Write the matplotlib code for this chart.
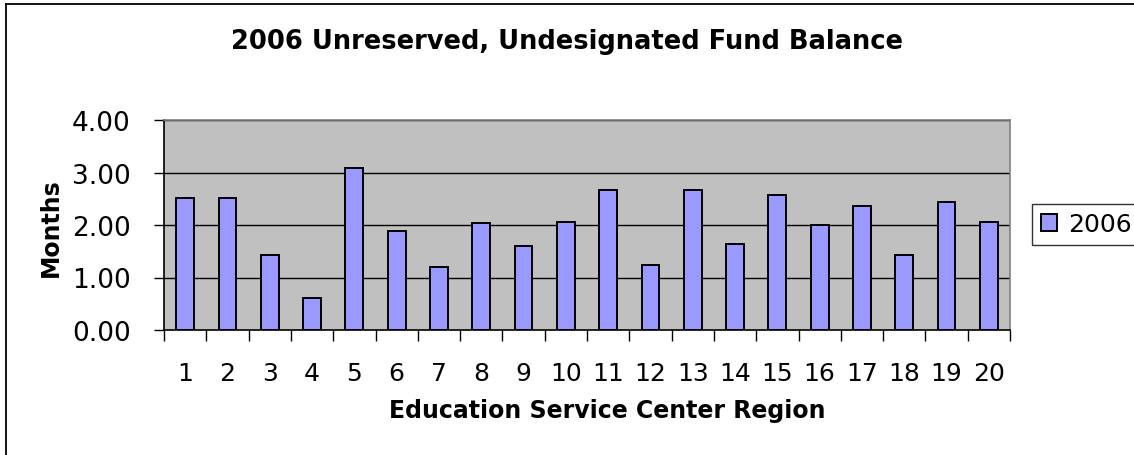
import matplotlib
matplotlib.use("Agg")
import matplotlib.pyplot as plt
import numpy as np
from matplotlib.lines import Line2D

regions = [str(i) for i in range(1, 21)]
values_2006 = [2.51, 2.51, 1.42, 0.61, 3.09, 1.89, 1.20, 2.03, 1.60, 2.06,
               2.66, 1.24, 2.66, 1.63, 2.58, 2.00, 2.37, 1.42, 2.44, 2.06]
yticks = [0, 1, 2, 3, 4]
series_name = "2006"

plt.rcParams['font.family'] = ['DejaVu Sans']

W, H = 1134, 456
fig = plt.figure(figsize=(W / 100, H / 100), dpi=100)
fig.patch.set_facecolor('white')

def fx(px):
    return px / W

def fy(py):
    return 1 - py / H

# outer chart border (right and bottom run off the image)
fig.add_artist(Line2D([fx(6), fx(6)], [fy(5), 0.0], color='black', lw=1.3))
fig.add_artist(Line2D([fx(6), 1.0], [fy(5), fy(5)], color='black', lw=1.3))

ax = fig.add_axes([fx(164), fy(331), (1010 - 164) / W, (331 - 121) / H])
ax.set_facecolor('#c0c0c0')
x = np.arange(len(regions))
ax.bar(x, values_2006, width=0.42, color='#9999ff', edgecolor='black', linewidth=1.4,
       zorder=3, label=series_name)
ax.set_xlim(-0.5, len(regions) - 0.5)
ax.set_ylim(0, 4)
ax.set_yticks(yticks)
ax.set_yticklabels([f"{v:.2f}" for v in yticks], fontsize=19)
for v in yticks[1:]:
    ax.axhline(v, color='black', linewidth=1.0, zorder=1)

ax.set_xticks(x)
ax.set_xticklabels(regions, fontsize=18)
ax.tick_params(axis='x', length=0, pad=22)
ax.set_xticks(np.arange(-0.5, len(regions) + 0.5, 1), minor=True)
ax.tick_params(axis='x', which='minor', length=8, width=1, direction='out')
ax.tick_params(axis='y', length=7, width=1, direction='out', pad=17)

for s in ['top', 'right']:
    ax.spines[s].set_color('#808080')
    ax.spines[s].set_linewidth(1.2)
for s in ['left', 'bottom']:
    ax.spines[s].set_color('black')
    ax.spines[s].set_linewidth(1.2)

fig.text(fx(567), fy(42), "2006 Unreserved, Undesignated Fund Balance",
         ha='center', va='center', fontsize=18.5, fontweight='bold')
fig.text(fx(607), fy(411), "Education Service Center Region",
         ha='center', va='center', fontsize=17, fontweight='bold')
fig.text(fx(51), fy(228), "Months", ha='center', va='center', rotation=90,
         fontsize=17, fontweight='bold')

leg = fig.legend(loc='center left', bbox_to_anchor=(fx(1032), fy(225.5)),
                 fontsize=18, frameon=True, fancybox=False, edgecolor='black',
                 handlelength=0.65, handleheight=0.65, handletextpad=0.45,
                 borderpad=0.35, borderaxespad=0)
leg.get_frame().set_linewidth(1)

fig.savefig("out.png", dpi=100, facecolor='white')
